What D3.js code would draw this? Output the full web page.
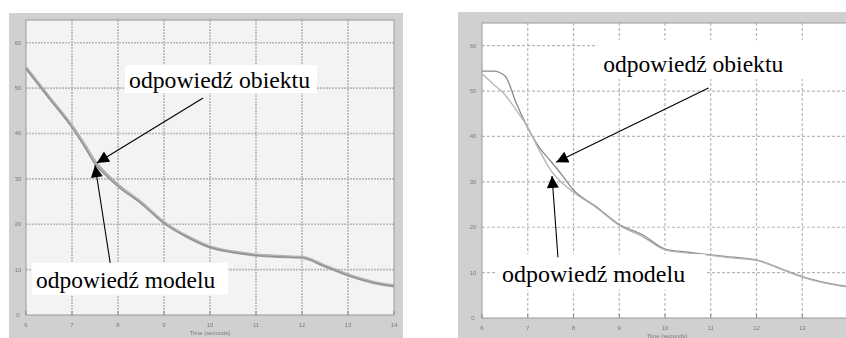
<!DOCTYPE html>
<html><head><meta charset="utf-8">
<script src="https://cdn.jsdelivr.net/npm/d3@7"></script>
<style>body{margin:0;background:#fff}svg{display:block}</style>
</head><body>
<svg id="c" width="846" height="338"></svg>
<script>
// ---------- data ----------
const xTicks = [6, 7, 8, 9, 10, 11, 12, 13, 14];
const yTicks = [0, 10, 20, 30, 40, 50, 60];
const xLabel = "Time (seconds)";

const timeL   = [6, 6.5, 7, 7.25, 7.5, 7.75, 8, 8.5, 9, 9.5, 10, 10.5, 11, 11.5, 12, 12.5, 13, 13.5, 14];
const objectL = [54.5, 48.0, 41.6, 37.8, 33.8, 31.0, 28.6, 24.8, 20.4, 17.3, 15.0, 13.9, 13.2, 12.9, 12.7, 10.8, 8.8, 7.3, 6.4];
const modelL  = [54.3, 47.8, 41.3, 37.4, 33.2, 30.6, 28.3, 24.6, 20.2, 17.2, 14.9, 13.8, 13.1, 12.8, 12.6, 10.7, 8.7, 7.2, 6.3];

const timeR   = [6, 6.25, 6.5, 6.75, 7, 7.25, 7.5, 7.75, 8, 8.5, 9, 9.5, 10, 10.5, 11, 11.5, 12, 12.5, 13, 13.5, 14];
const objectR = [54.4, 54.4, 53.4, 47.3, 41.9, 37.6, 34.6, 31.5, 28.2, 24.5, 20.6, 18.4, 15.2, 14.5, 13.9, 13.4, 12.8, 11.0, 9.1, 7.8, 6.9];
const modelR  = [53.8, 51.5, 49.2, 45.8, 42.0, 37.0, 32.6, 29.8, 27.7, 24.3, 20.4, 18.0, 15.0, 14.3, 13.8, 13.2, 12.7, 10.9, 9.0, 7.7, 6.8];

const labels = ["odpowiedź obiektu", "odpowiedź modelu"];

// ---------- pick an installed serif face ----------
function pickSerif() {
  const ctx = document.createElement("canvas").getContext("2d");
  const probe = "odpowiedź obiektu modelu WMiIl";
  ctx.font = "40px sans-serif"; const sans = ctx.measureText(probe).width;
  ctx.font = "40px monospace"; const mono = ctx.measureText(probe).width;
  const cands = ["Liberation Serif", "Times New Roman", "Tinos", "DejaVu Serif", "Noto Serif", "FreeSerif", "Nimbus Roman", "serif"];
  for (const f of cands) {
    ctx.font = `40px "${f}", monospace`;
    const w = ctx.measureText(probe).width;
    if (Math.abs(w - mono) > 0.5 && Math.abs(w - sans) > 0.5) return `"${f}"`;
  }
  return "serif";
}
const serifFont = pickSerif();

// ---------- layout ----------
const W = 846;
const svg = d3.select("#c");
const defs = svg.append("defs");
defs.append("filter").attr("id","blur").append("feGaussianBlur").attr("stdDeviation",0.5);
defs.append("filter").attr("id","blur2").append("feGaussianBlur").attr("stdDeviation",0.3);
const mk = defs.append("marker").attr("id","arr").attr("viewBox","0 0 10 10")
  .attr("refX",10).attr("refY",5).attr("markerWidth",17).attr("markerHeight",12)
  .attr("markerUnits","userSpaceOnUse").attr("orient","auto");
mk.append("path").attr("d","M0,0 L10,5 L0,10 Z").attr("fill","#000");

const panels = [
  { frame:[9,13,403,338], plot:[26,20,394,315], bg:"#f3f3f3", dash:"2,1", gridW:1.6,
    time:timeL, obj:objectL, mod:modelL, ylabX:18, xLabCx:210,
    objStyle:{c:"#b0b0b0", w:3.2}, modStyle:{c:"#8c8c8c", w:1.1},
    ann:[ {tx:8.24, ty:50.0, len:181, pad:[4,3,7,6], ax:9.85, ay:47.8, px:7.54, py:33.5},
          {tx:6.22, ty:6.0,  len:179, pad:[4,5,13,8], ax:7.83, ay:11.5, px:7.50, py:33.0} ] },
  { frame:[458,12,850,338], plot:[482,23,848,318], bg:"#ffffff", dash:"3,2", gridW:1.2,
    time:timeR, obj:objectR, mod:modelR, ylabX:473, xLabCx:667,
    objStyle:{c:"#8a8a8a", w:1.3}, modStyle:{c:"#b4b4b4", w:1.3},
    ann:[ {tx:8.65, ty:54.2, len:180, pad:[6,12,70,8], ax:10.95, ay:50.7, px:7.62, py:34.3},
          {tx:6.44, ty:7.9,  len:183, pad:[5,8,20,9], ax:7.66, ay:13.4, px:7.53, py:31.3} ] }
];

panels.forEach(p => {
  const g = svg.append("g");
  const [fx0,fy0,fx1,fy1] = p.frame, [px0,py0,px1,py1] = p.plot;
  const x = d3.scaleLinear().domain([6,14]).range([px0,px1]);
  const y = d3.scaleLinear().domain([0,65]).range([py1,py0]);

  g.append("rect").attr("x",fx0).attr("y",fy0).attr("width",fx1-fx0).attr("height",fy1-fy0).attr("fill","#d0d0d0");
  g.append("rect").attr("x",px0).attr("y",py0).attr("width",px1-px0).attr("height",py1-py0).attr("fill",p.bg);

  const grid = g.append("g").attr("filter","url(#blur2)");
  grid.selectAll(".gx").data(xTicks.slice(1,-1)).join("line")
    .attr("x1",d=>x(d)).attr("x2",d=>x(d)).attr("y1",py0).attr("y2",py1)
    .attr("stroke","#b8b8b8").attr("stroke-width",p.gridW).attr("stroke-dasharray",p.dash);
  grid.selectAll(".gy").data(yTicks.slice(1)).join("line")
    .attr("x1",px0).attr("x2",px1).attr("y1",d=>y(d)).attr("y2",d=>y(d))
    .attr("stroke","#b8b8b8").attr("stroke-width",p.gridW).attr("stroke-dasharray",p.dash);

  g.append("rect").attr("x",px0).attr("y",py0).attr("width",px1-px0).attr("height",py1-py0)
    .attr("fill","none").attr("stroke","#9a9a9a").attr("stroke-width",1);

  // axes (tick labels, tiny and blurry like the scan)
  const ax = g.append("g").attr("filter","url(#blur)")
    .attr("font-family","'Liberation Sans', Arial, sans-serif").attr("font-size",6).attr("fill","#7a7a7a");
  ax.selectAll(".yl").data(yTicks).join("text")
    .attr("x",p.ylabX).attr("y",d=>y(d)+2).attr("text-anchor","middle").text(d=>d);
  ax.selectAll(".xl").data(xTicks.filter(d => x(d) < W - 6)).join("text")
    .attr("x",d=>x(d)).attr("y",py1+12).attr("text-anchor","middle").text(d=>d);
  ax.append("text").attr("x",p.xLabCx).attr("y",py1+20).attr("text-anchor","middle").text(xLabel);
  g.append("g").selectAll("line").data(xTicks).join("line")
    .attr("x1",d=>x(d)).attr("x2",d=>x(d)).attr("y1",py1).attr("y2",py1-4).attr("stroke","#888");

  // curves
  const line = (arr) => d3.line().x((d,i)=>x(p.time[i])).y(d=>y(d)).curve(d3.curveMonotoneX)(arr);
  const cg = g.append("g").attr("filter","url(#blur2)");
  cg.append("path").attr("d",line(p.obj)).attr("fill","none")
    .attr("stroke",p.objStyle.c).attr("stroke-width",p.objStyle.w);
  cg.append("path").attr("d",line(p.mod)).attr("fill","none")
    .attr("stroke",p.modStyle.c).attr("stroke-width",p.modStyle.w);

  // annotations
  p.ann.forEach((a,i) => {
    const t = g.append("text").attr("x",x(a.tx)).attr("y",y(a.ty))
      .attr("font-family", serifFont + ", serif").attr("font-size",23)
      .attr("fill","#000").attr("textLength",a.len).attr("lengthAdjust","spacingAndGlyphs")
      .text(labels[i]);
    const b = t.node().getBBox();
    g.insert("rect", () => t.node())
      .attr("x",x(a.tx)-a.pad[0]).attr("y",b.y-a.pad[1])
      .attr("width",a.len+a.pad[0]+a.pad[2]).attr("height",b.height+a.pad[1]+a.pad[3]-6)
      .attr("fill","#fff");
    g.append("line").attr("x1",x(a.ax)).attr("y1",y(a.ay)).attr("x2",x(a.px)).attr("y2",y(a.py))
      .attr("stroke","#000").attr("stroke-width",1.1).attr("marker-end","url(#arr)");
  });
});
</script>
</body></html>
